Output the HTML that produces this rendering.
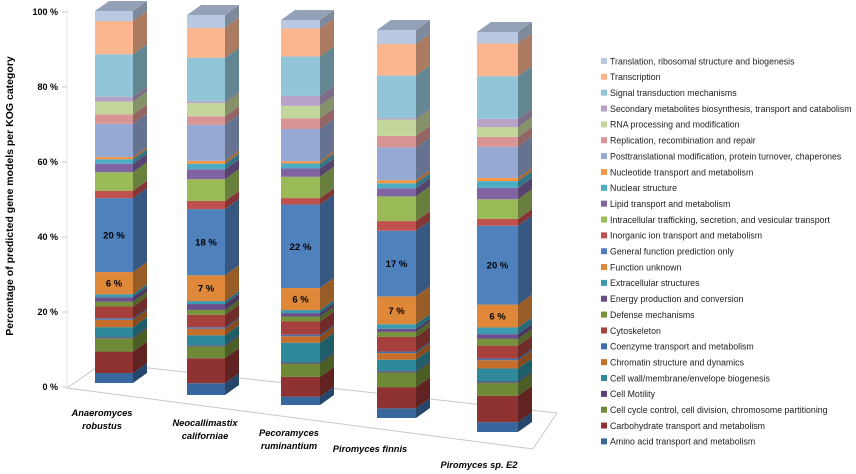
<!DOCTYPE html>
<html><head><meta charset="utf-8"><style>
html,body{margin:0;padding:0;background:#fff;}
svg{display:block;font-family:"Liberation Sans",sans-serif;}
</style></head><body>
<svg id="chart" width="856" height="474" viewBox="0 0 856 474">
<g id="axes"></g>
<g id="bars"></g>
<g id="legend"></g>
<text transform="translate(13,196) rotate(-90)" text-anchor="middle" font-size="10.5" font-weight="bold" fill="#000">Percentage of predicted  gene models per KOG category</text>
</svg>
<script>
// KOG categories, bottom-to-top stacking order
const categories = ["Amino acid transport and metabolism","Carbohydrate transport and metabolism","Cell cycle control, cell division, chromosome partitioning","Cell Motility","Cell wall/membrane/envelope biogenesis","Chromatin structure and dynamics","Coenzyme transport and metabolism","Cytoskeleton","Defense mechanisms","Energy production and conversion","Extracellular structures","Function unknown","General function prediction only","Inorganic ion transport and metabolism","Intracellular trafficking, secretion, and vesicular transport","Lipid transport and metabolism","Nuclear structure","Nucleotide transport and metabolism","Posttranslational modification, protein turnover, chaperones","Replication, recombination and repair","RNA processing and modification","Secondary metabolites biosynthesis, transport and catabolism","Signal transduction mechanisms","Transcription","Translation, ribosomal structure and biogenesis"];
const colors = ["#38679e","#8e3331","#6f8a36","#5b3f7d","#2e8a9b","#c66f2c","#3f6fae","#a5403d","#77933c","#6a4f8c","#3a9ab0","#e0883a","#4f81bd","#c0504d","#9bbb59","#8064a2","#4bacc6","#f79646","#95a9d4","#d99594","#c3d69b","#b7a2c8","#92c5d8","#fbb58f","#b9c9e4"];
const species = [["Anaeromyces","robustus"],["Neocallimastix","californiae"],["Pecoramyces","ruminantium"],["Piromyces finnis"],["Piromyces sp. E2"]];
const anaeromyces = [2.7,5.8,3.6,0.3,2.7,2,0.4,3.2,1.3,1.2,0.8,6,20,2,5,2.3,1.2,0.6,9,2.5,3.5,1.3,11.5,9,2.7];
const neocallimastix = [3.2,6.8,3.2,0.3,2.7,1.8,0.4,3.4,1.3,1.6,0.8,7,18,2.2,5.9,2.7,1.5,0.8,9.8,2.3,3.6,0.5,11.8,8.1,3.5];
const pecoramyces = [2.2,5.2,3.5,0.3,5.2,1.7,0.4,3.5,1.3,0.9,0.8,5.8,22,1.7,5.6,2.2,1.3,0.6,8.5,2.8,3.3,2.6,10.4,7.4,2.2];
const piromycesFinnis = [2.5,5.5,3.8,0.3,3,1.7,0.4,3.8,1.3,0.8,1.2,7.2,17,2.5,6.4,2.1,1.3,0.8,8.5,3,4.2,0.4,11,8.2,3.6];
const piromycesE2 = [2.5,6.7,3.3,0.3,3.3,2.1,0.4,3.3,1.7,1.2,1.7,5.8,20,1.7,5,2.9,1.7,0.8,7.9,2.5,2.5,2.1,10.8,8.3,2.9];
const seriesBySpecies = [anaeromyces,neocallimastix,pecoramyces,piromycesFinnis,piromycesE2];
const generalLabels = ["20 %","18 %","22 %","17 %","20 %"];
const functionLabels = ["6 %","7 %","6 %","7 %","6 %"];
const yTicks = [0,20,40,60,80,100];
const yTickLabels = ["0 %","20 %","40 %","60 %","80 %","100 %"];

const NS="http://www.w3.org/2000/svg";
function mk(tag,attrs,parent,txt){const e=document.createElementNS(NS,tag);for(const k in attrs)e.setAttribute(k,attrs[k]);if(txt!==undefined)e.textContent=txt;parent.appendChild(e);return e;}
function shade(hex,f){let n=parseInt(hex.slice(1),16);let r=n>>16,g=(n>>8)&255,b=n&255;
 if(f<1){r*=f;g*=f;b*=f;}else{r+= (255-r)*(f-1);g+=(255-g)*(f-1);b+=(255-b)*(f-1);}
 return "rgb("+Math.round(r)+","+Math.round(g)+","+Math.round(b)+")";}

const barLayout=[{x0:95,x1:133,yb:383,yt:11},{x0:187,x1:225,yb:395,yt:15},{x0:281,x1:320,yb:405,yt:20},{x0:377,x1:416,yb:418,yt:30},{x0:477,x1:518,yb:432,yt:32}];
const depthX=14, depthY=-10;
const yAxis=v=>387-v*3.75;

const axes=document.getElementById('axes');
const floor=mk('polygon',{points:"67,388 103,363 557,413 533,449",fill:"none",stroke:"#c8c8c8","stroke-width":"1"},axes);


const wall=mk('line',{x1:67,y1:388,x2:67,y2:10,stroke:"#e4e4e4","stroke-width":"1"},axes);


yTicks.forEach((v,i)=>{
 const t=mk('text',{x:58,y:yAxis(v)+3,"text-anchor":"end","font-size":"9","font-weight":"bold",fill:"#000"},axes,yTickLabels[i]);
 
 
 const tk=mk('line',{x1:62,y1:yAxis(v),x2:67,y2:yAxis(v),stroke:"#c8c8c8"},axes);
 
 
});

const barsG=document.getElementById('bars');
seriesBySpecies.forEach((vals,bi)=>{
 const L=barLayout[bi];
 const g=mk('g',{},barsG);
 
 
 const total=vals.reduce((a,b)=>a+b,0);
 const H=L.yb-L.yt;
 let cum=0;
 vals.forEach((v,ci)=>{
  const yBot=L.yb-cum/total*H; cum+=v; const yTop=L.yb-cum/total*H;
  const c=colors[ci];
  const f=mk('rect',{x:L.x0,y:yTop,width:L.x1-L.x0,height:Math.max(0.4,yBot-yTop),fill:c},g);
  
  
  const s=mk('polygon',{points:`${L.x1},${yBot} ${L.x1+depthX},${yBot+depthY} ${L.x1+depthX},${yTop+depthY} ${L.x1},${yTop}`,fill:shade(c,0.68)},g);
  
  
  if(ci===vals.length-1){
   const tp=mk('polygon',{points:`${L.x0},${yTop} ${L.x1},${yTop} ${L.x1+depthX},${yTop+depthY} ${L.x0+depthX},${yTop+depthY}`,fill:shade(c,0.8)},g);
   
   
  }
  if(ci===12||ci===11){
   const lbl=mk('text',{x:(L.x0+L.x1)/2,y:(yTop+yBot)/2+3.5,"text-anchor":"middle","font-size":"9.5","font-weight":"bold",fill:"#000"},g,ci===12?generalLabels[bi]:functionLabels[bi]);
   
   
  }
 });
});

const catPos=[{x:102,y:416},{x:205,y:426},{x:289,y:436},{x:370,y:452},{x:479,y:468}];
species.forEach((lines,i)=>{
 const t=mk('text',{x:catPos[i].x,y:catPos[i].y,"text-anchor":"middle","font-size":"9.3","font-weight":"bold","font-style":"italic",fill:"#000"},axes);
 
 
 lines.forEach((ln,k)=>{mk('tspan',{x:catPos[i].x,dy:k?13:0},t,ln);});
});

const lg=document.getElementById('legend');
for(let r=0;r<categories.length;r++){
 const ci=categories.length-1-r;
 const y=61+r*15.85;
 const e=mk('g',{},lg);
 
 
 mk('rect',{x:601,y:y-3,width:6,height:6,fill:colors[ci]},e);
 mk('text',{x:610,y:y+3.3,"font-size":"8.8",fill:"#222"},e,categories[ci]);
}
</script>
</body></html>
